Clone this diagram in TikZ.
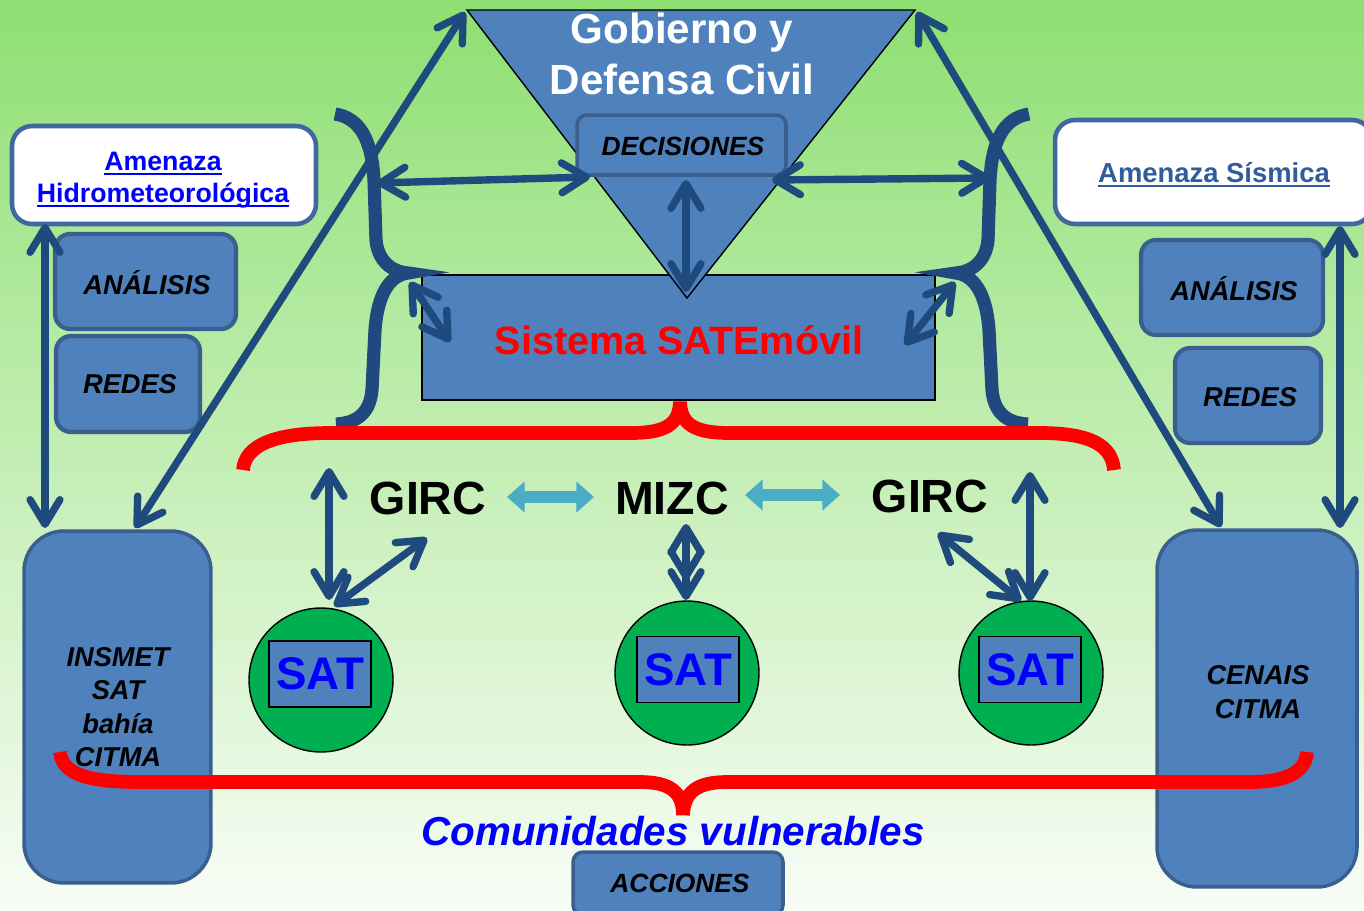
\documentclass[tikz,border=0pt]{standalone}
\usepackage{fontspec}
\setmainfont{Liberation Sans}
\usetikzlibrary{arrows.meta}
\definecolor{boxblue}{HTML}{4F81BD}
\definecolor{boxedge}{HTML}{3A5F8F}
\definecolor{whiteedge}{HTML}{41689E}
\definecolor{arrowblue}{HTML}{1F4A7E}
\definecolor{braceblue}{HTML}{22497F}
\definecolor{cyanarr}{HTML}{4BACC6}
\definecolor{satgreen}{HTML}{00B050}
\definecolor{satblue}{HTML}{0000FF}
\definecolor{sismtext}{HTML}{2F5C9A}
\definecolor{bgtop}{HTML}{8EDF72}
\definecolor{bgmid}{HTML}{C8EEC0}
\definecolor{bgbot}{HTML}{F8FDF6}
\newcommand\thickul[1]{\setbox0\hbox{#1}\rlap{\rule[-2.4pt]{\wd0}{1.1pt}}\box0}
\tikzset{
  bbox/.style={draw=boxedge, fill=boxblue, line width=2.4pt, rounded corners=0.3cm, inner sep=0pt},
  wbox/.style={draw=whiteedge, fill=white, line width=2.6pt, rounded corners=0.4cm, inner sep=0pt},
  lab/.style={font=\fontsize{15.5}{19}\selectfont\bfseries\itshape, text=black, align=center},
  big/.style={font=\fontsize{26.5}{30}\selectfont\bfseries, text=black},
  sattxt/.style={font=\fontsize{26}{30}\selectfont\bfseries, text=satblue},
  dbl/.style={draw=arrowblue, line width=4.2pt, line cap=round,
    {Straight Barb[length=14pt,width=17pt,round]}-{Straight Barb[length=14pt,width=17pt,round]}},
  sgl/.style={draw=arrowblue, line width=4.2pt, line cap=round,
    -{Straight Barb[length=14pt,width=17pt,round]}},
  cy/.style={draw=cyanarr, line width=6.5pt, {Triangle[length=10pt,width=17pt]}-{Triangle[length=10pt,width=17pt]}},
  bracered/.style={draw=red, line width=7.8pt},
  braceb/.style={draw=braceblue, line width=7.5pt},
}
\begin{document}
\begin{tikzpicture}[x=0.02cm,y=-0.02cm]
\useasboundingbox (0,0) rectangle (1364,910);
\clip (0,0) rectangle (1364,910);
\shade[top color=bgtop, middle color=bgmid, bottom color=bgbot] (0,0) rectangle (1364,910);

% central boxes
\node[draw=black, fill=boxblue, line width=0.8pt, minimum width=10.26cm, minimum height=2.5cm, inner sep=0pt] (sis) at (678.5,337.5) {};
\coordinate (triL) at (467,10);
\coordinate (triR) at (915,10);
\coordinate (triB) at (687,298);
\filldraw[fill=boxblue, draw=black, line width=0.8pt] (triL) -- (triR) -- (triB) -- cycle;
\node[font=\fontsize{24}{29.5}\selectfont\bfseries, text=white, align=center] (gob) at (682,54) {Gobierno y\\Defensa Civil};
\node[font=\fontsize{22.5}{27}\selectfont\bfseries, text=red] (sistxt) at (679,340) {Sistema SATEmóvil};
\node[bbox, rounded corners=0.2cm, line width=2pt, minimum width=4.18cm, minimum height=1.2cm] (dec) at (681.5,145) {};
\node[lab, font=\fontsize{15}{18}\selectfont\bfseries\itshape] (dectxt) at (683,146) {DECISIONES};

% side boxes
\node[wbox, minimum width=6.08cm, minimum height=1.96cm] (hid) at (164,175) {};
\node[font=\fontsize{15.2}{18.2}\selectfont\bfseries, text=satblue, align=center] (hidtxt) at (163,180) {\thickul{Amenaza}\\\thickul{Hidrometeorológica}};
\node[wbox, minimum width=6.34cm, minimum height=2.08cm] (sism) at (1213.5,172) {};
\node[font=\fontsize{15.6}{18}\selectfont\bfseries, text=sismtext] (sismtxt) at (1214,175) {\thickul{Amenaza Sísmica}};

\node[bbox, minimum width=3.62cm, minimum height=1.9cm] (anL) at (145.5,281.5) {};
\node[lab] (anLt) at (147,283) {ANÁLISIS};
\node[bbox, minimum width=2.88cm, minimum height=1.92cm] (reL) at (128,384) {};
\node[lab] (reLt) at (130,384) {REDES};
\node[bbox, minimum width=3.64cm, minimum height=1.9cm] (anR) at (1232,287.5) {};
\node[lab] (anRt) at (1234,289) {ANÁLISIS};
\node[bbox, minimum width=2.92cm, minimum height=1.9cm] (reR) at (1248,395.5) {};
\node[lab] (reRt) at (1250,397) {REDES};

\node[bbox, line width=2pt, rounded corners=0.8cm, minimum width=3.74cm, minimum height=7.04cm] (ins) at (117.5,707) {};
\node[lab] (inst) at (118,707) {INSMET\\SAT\\bahía\\CITMA};
\node[bbox, line width=2pt, rounded corners=0.8cm, minimum width=4cm, minimum height=7.14cm] (cen) at (1257,708.5) {};
\node[lab] (cent) at (1258,692) {CENAIS\\CITMA};

% SAT circles
\foreach \n/\cx/\cy/\rx/\ry in {1/321/680/320/674, 2/687/673/688/669.5, 3/1031/673/1030/669.5}{
  \node[circle, draw=black, fill=satgreen, line width=0.8pt, minimum size=2.88cm, inner sep=0pt] (c\n) at (\cx,\cy) {};
  \node[draw=black, fill=boxblue, line width=0.8pt, minimum width=2.04cm, minimum height=1.32cm, inner sep=0pt, sattxt] (s\n) at (\rx,\ry) {SAT};
}

% labels in the middle row
\node[big] (g1) at (428,498) {GIRC};
\node[big] (mz) at (672,498) {MIZC};
\node[big] (g2) at (930,496) {GIRC};

% blue braces
\draw[braceb] (335,114) .. controls (360,118) and (372,140) .. (374,180) -- (376,240)
  .. controls (378,262) and (393,272) .. (408,273)
  .. controls (392,275) and (378,290) .. (375,330) -- (372,390)
  .. controls (370,412) and (358,423) .. (336,424);
\draw[braceb] (1029,114) .. controls (1004,118) and (992,140) .. (990,180) -- (988,240)
  .. controls (986,262) and (971,272) .. (956,273)
  .. controls (972,275) and (986,290) .. (989,330) -- (992,390)
  .. controls (994,412) and (1006,423) .. (1028,424);

% coordinates for arrow ends
\coordinate (insT) at (135,528);
\coordinate (cenT) at (1221,527);
\coordinate (hidB) at (45,224);
\coordinate (insTL) at (45,528);
\coordinate (sismB) at (1340,226);
\coordinate (cenTR) at (1340,528);
\coordinate (braceL) at (377,183);
\coordinate (decL) at (590,177);
\coordinate (decR) at (772,180);
\coordinate (braceR) at (990,178);
\coordinate (decB) at (686,180);
\coordinate (sisT) at (686,292);
\coordinate (tipL) at (410,282);
\coordinate (sisL) at (450,342);
\coordinate (tipR) at (955,282);
\coordinate (sisR) at (905,345);
\coordinate (g1a) at (329,468);
\coordinate (c1a) at (329,600);
\coordinate (g1b) at (427,538);
\coordinate (c1b) at (334,606);
\coordinate (mzb) at (686,524);
\coordinate (c2a) at (686,600);
\coordinate (mzc) at (686,545);
\coordinate (mzd) at (686,580);
\coordinate (g2a) at (1030,472);
\coordinate (c3a) at (1030,601);
\coordinate (g2b) at (938,533);
\coordinate (c3b) at (1021,601);
\coordinate (cy1a) at (507,497);
\coordinate (cy1b) at (594,497);
\coordinate (cy2a) at (745,495);
\coordinate (cy2b) at (840,495);

% arrows
\draw[dbl] (insT) -- ([shift={(-2,2)}]triL);
\draw[dbl] (cenT) -- ([shift={(2,2)}]triR);
\draw[dbl] (hidB) -- (insTL);
\draw[dbl] (sismB) -- (cenTR);
\draw[dbl] (braceL) -- (decL);
\draw[dbl] (decR) -- (braceR);
\draw[dbl] (decB) -- (sisT);
\draw[dbl] (tipL) -- (sisL);
\draw[dbl] (tipR) -- (sisR);
\draw[dbl] (g1a) -- (c1a);
\draw[dbl] (g1b) -- (c1b);
\draw[dbl] (mzb) -- (c2a);
\draw[sgl] (mzc) -- (mzd);
\draw[dbl] (g2a) -- (c3a);
\draw[dbl] (g2b) -- (c3b);
\draw[cy] (cy1a) -- (cy1b);
\draw[cy] (cy2a) -- (cy2b);

% red braces
\draw[bracered] (243,470) .. controls (245,445) and (275,433) .. (330,433) -- (630,433)
  .. controls (665,433) and (679,425) .. (680,402)
  .. controls (681,425) and (695,433) .. (730,433) -- (1040,433)
  .. controls (1090,433) and (1112,445) .. (1114,470);

% bottom
\node[bbox, line width=2pt, rounded corners=0.2cm, minimum width=4.2cm, minimum height=1.26cm] (acc) at (678,883.5) {};
\node[lab, font=\fontsize{15}{18}\selectfont\bfseries\itshape] (acct) at (680,883) {ACCIONES};
\draw[bracered] (60,752) .. controls (62,775) and (90,782) .. (140,782) -- (640,782)
  .. controls (670,782) and (683,792) .. (683,815)
  .. controls (684,792) and (697,782) .. (727,782) -- (1250,782)
  .. controls (1290,782) and (1306,770) .. (1307,752);
\node[font=\fontsize{23}{27}\selectfont\bfseries\itshape, text=satblue] (com) at (673,831) {Comunidades vulnerables};
\end{tikzpicture}
\end{document}
